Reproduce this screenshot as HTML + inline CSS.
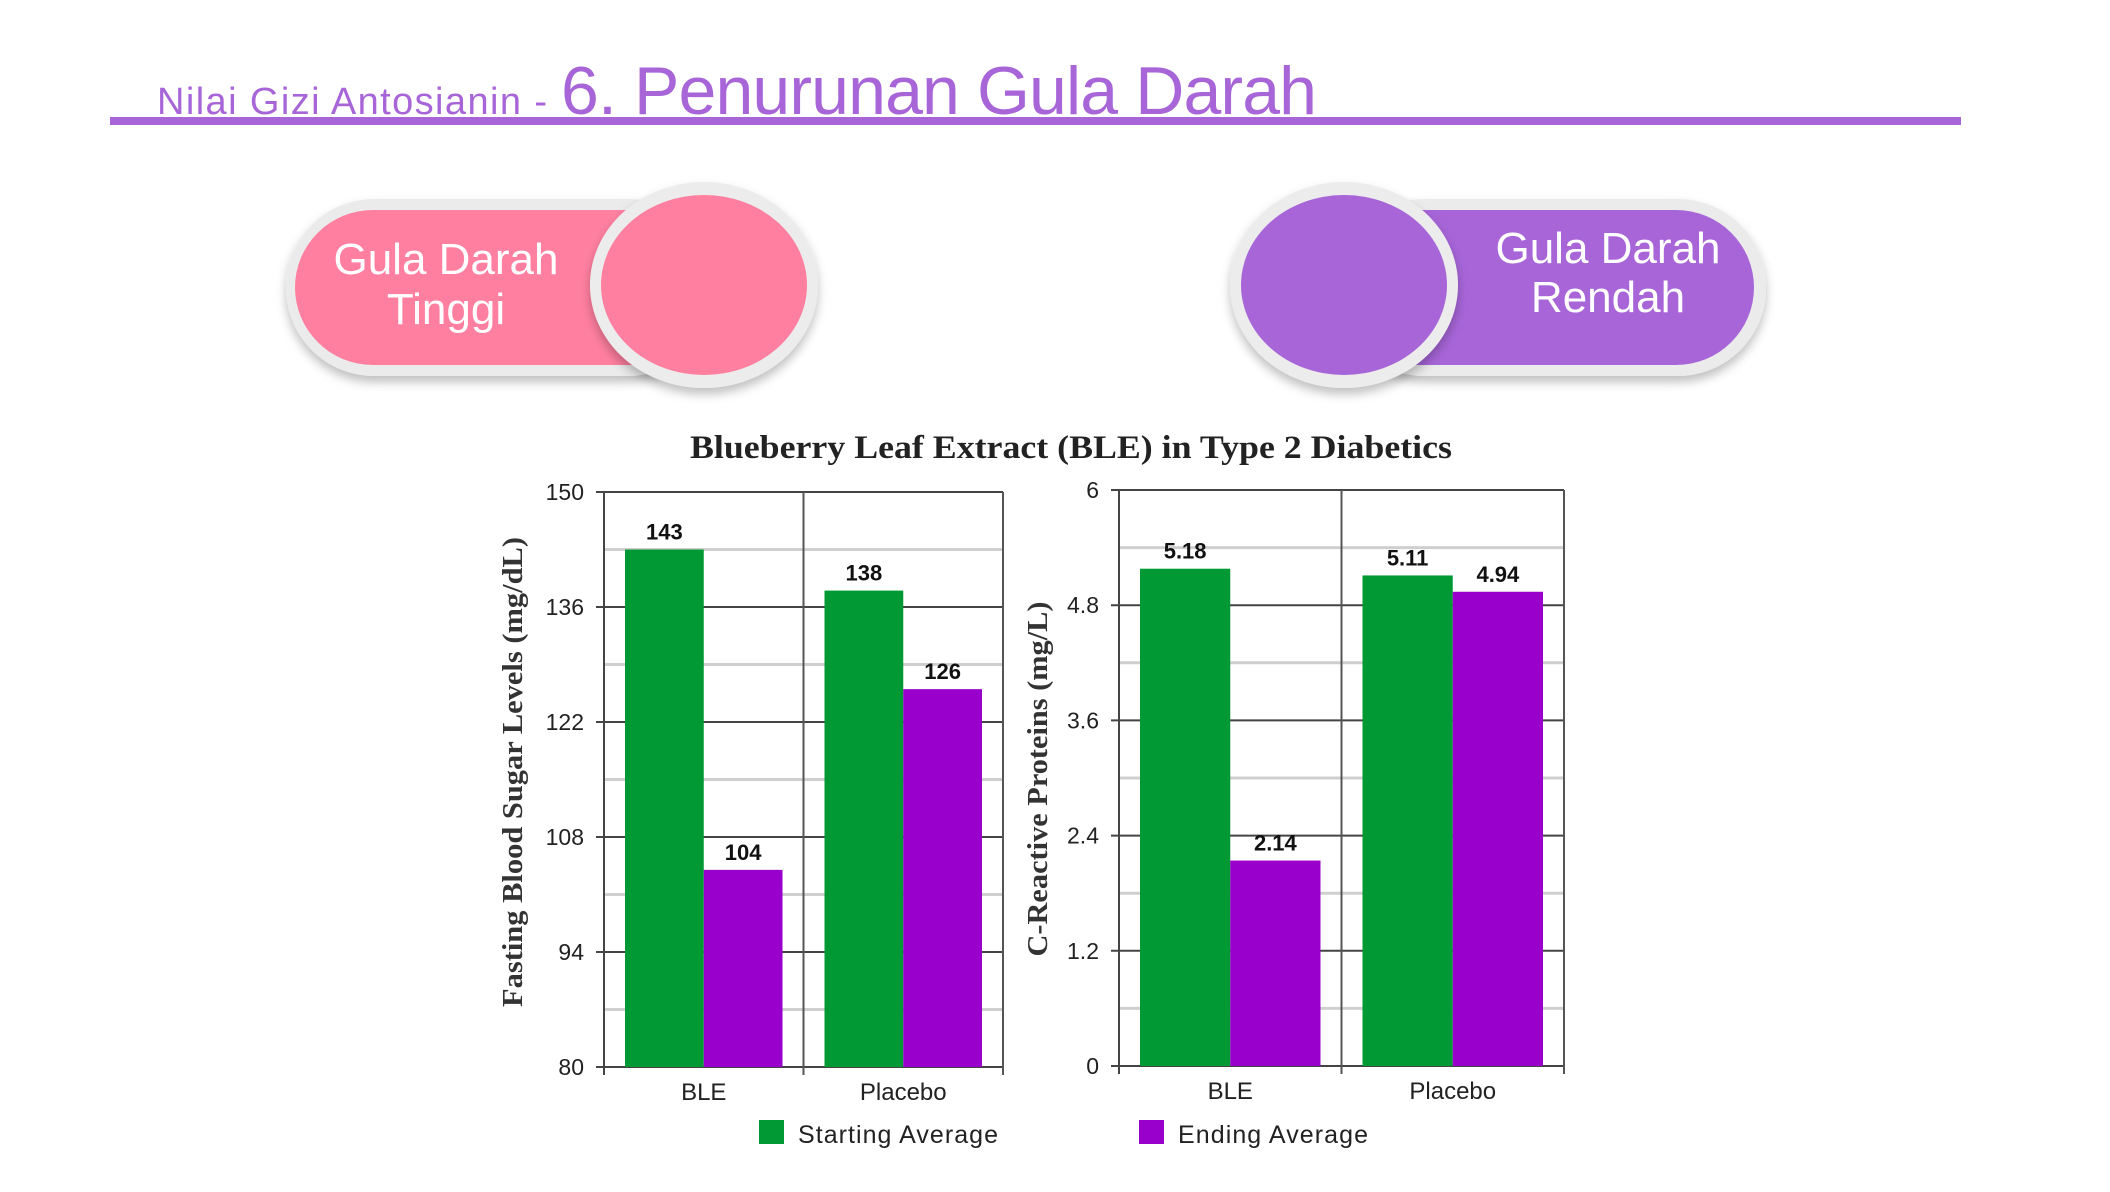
<!DOCTYPE html>
<html><head><meta charset="utf-8"><style>
html,body{margin:0;padding:0;background:#fff;}
body{width:2110px;height:1187px;position:relative;overflow:hidden;font-family:"Liberation Sans",sans-serif;}
</style></head><body>
<svg width="2110" height="1187" viewBox="0 0 2110 1187" xmlns="http://www.w3.org/2000/svg">
<defs>
<filter id="sh" x="-20%" y="-20%" width="140%" height="150%"><feDropShadow dx="0" dy="6" stdDeviation="5" flood-color="#000" flood-opacity="0.25"/></filter>
</defs>
<g>
<text x="157" y="114" font-size="38" fill="#a765d8" textLength="390">Nilai Gizi Antosianin -</text>
<text x="561" y="114" font-size="68" fill="#a765d8" textLength="756">6. Penurunan Gula Darah</text>
<rect x="110" y="117" width="1851" height="8" fill="#a765d8"/>
</g>
<g>
<rect x="286" y="199" width="430" height="177" rx="88" fill="#ebebeb" filter="url(#sh)"/>
<rect x="295" y="210" width="420" height="155" rx="78" fill="#ff7fa0"/>
<ellipse cx="704" cy="285" rx="114" ry="103" fill="#ececec" filter="url(#sh)"/>
<ellipse cx="704" cy="285" rx="103" ry="90" fill="#ff7fa0"/>
<text x="446" y="274" font-size="44" fill="#fff" text-anchor="middle">Gula Darah</text>
<text x="446" y="324" font-size="44" fill="#fff" text-anchor="middle">Tinggi</text>
</g>
<g>
<rect x="1336" y="199" width="430" height="177" rx="88" fill="#ebebeb" filter="url(#sh)"/>
<rect x="1340" y="210" width="414" height="155" rx="78" fill="#a765d8"/>
<ellipse cx="1344" cy="285" rx="114" ry="103" fill="#ececec" filter="url(#sh)"/>
<ellipse cx="1344" cy="285" rx="103" ry="90" fill="#a765d8"/>
<text x="1608" y="263" font-size="44" fill="#fff" text-anchor="middle">Gula Darah</text>
<text x="1608" y="312" font-size="44" fill="#fff" text-anchor="middle">Rendah</text>
</g>
<text x="1071" y="458" font-size="33" font-weight="bold" font-family="Liberation Serif, serif" fill="#222" text-anchor="middle" textLength="762" lengthAdjust="spacingAndGlyphs">Blueberry Leaf Extract (BLE) in Type 2 Diabetics</text>
<g id="charts"></g>
<g>
<rect x="759" y="1120" width="25" height="24" fill="#009933"/>
<text x="798" y="1143" font-size="25" fill="#222" textLength="200">Starting  Average</text>
<rect x="1139" y="1120" width="25" height="24" fill="#9900cc"/>
<text x="1178" y="1143" font-size="25" fill="#222" textLength="190">Ending Average</text>
</g>
</svg>
<script>
const categories = ["BLE", "Placebo"];
const sugarStart = [143, 138];
const sugarEnd = [104, 126];
const sugarTicks = [80, 94, 108, 122, 136, 150];
const crpStart = [5.18, 5.11];
const crpEnd = [2.14, 4.94];
const crpTicks = [0, 1.2, 2.4, 3.6, 4.8, 6];

const NS = "http://www.w3.org/2000/svg";
const root = document.getElementById("charts");
function mk(tag, attrs, parent){const e=document.createElementNS(NS,tag);for(const k in attrs)e.setAttribute(k,attrs[k]);(parent||root).appendChild(e);return e;}

function drawChart(cfg){
  const g = mk("g",{});
  
  
  const {x0,x1,y0,y1,ticks,start,end,fmt,pad} = cfg;
  const tmin=ticks[0], tmax=ticks[ticks.length-1];
  const yS = v => y0 + (tmax - v) / (tmax - tmin) * (y1 - y0);
  const gw = (x1-x0)/categories.length;
  for(let i=0;i<ticks.length-1;i++){
    const yy=yS((ticks[i]+ticks[i+1])/2);
    const l=mk("line",{x1:x0,x2:x1,y1:yy,y2:yy,stroke:"#cfcfcf","stroke-width":3},g);
    
    
  }
  ticks.forEach(t=>{
    const yy=yS(t);
    const l=mk("line",{x1:x0-8,x2:x1,y1:yy,y2:yy,stroke:"#444","stroke-width":2},g);
    
    
    const tx=mk("text",{x:x0-20,y:yy+8,"font-size":23,fill:"#222","text-anchor":"end"},g);
    tx.textContent=fmt(t);
    
    
  });
  for(let i=0;i<=categories.length;i++){
    const xx=x0+i*gw;
    const l=mk("line",{x1:xx,x2:xx,y1:y0,y2:y1+8,stroke:i===0?"#444":"#555","stroke-width":2},g);
    
    
  }
  const bw=(gw-2*pad)/2;
  categories.forEach((c,i)=>{
    const gx=x0+i*gw+pad;
    [[start[i],"#009933","start"],[end[i],"#9900cc","end"]].forEach((d,j)=>{
      const bx=gx+j*bw, top=yS(d[0]);
      const r=mk("rect",{x:bx,y:top,width:bw,height:y1-top,fill:d[1]},g);
      
      
      const lb=mk("text",{x:bx+bw/2,y:top-10,"font-size":22,"font-weight":"bold",fill:"#111","text-anchor":"middle"},g);
      lb.textContent=fmt(d[0]);
      
      
    });
    const cl=mk("text",{x:x0+i*gw+gw/2,y:y1+33,"font-size":24,fill:"#222","text-anchor":"middle"},g);
    cl.textContent=c;
    
    
  });
  const at=mk("text",{x:cfg.tx,y:cfg.ty,"font-size":28,"font-weight":"bold","font-family":"Liberation Serif, serif",fill:"#333","text-anchor":"middle",textLength:cfg.tl,lengthAdjust:"spacingAndGlyphs",transform:`rotate(-90 ${cfg.tx} ${cfg.ty})`},g);
  at.textContent=cfg.title;
  
  
}
drawChart({name:"blood-sugar-chart",x0:604,x1:1003,y0:492,y1:1067,ticks:sugarTicks,start:sugarStart,end:sugarEnd,fmt:v=>String(v),pad:21,tx:522,ty:772,tl:470,title:"Fasting Blood Sugar Levels (mg/dL)"});
drawChart({name:"crp-chart",x0:1119,x1:1564,y0:490,y1:1066,ticks:crpTicks,start:crpStart,end:crpEnd,fmt:v=>String(v),pad:21,tx:1047,ty:779,tl:355,title:"C-Reactive Proteins (mg/L)"});
</script>
</body></html>
